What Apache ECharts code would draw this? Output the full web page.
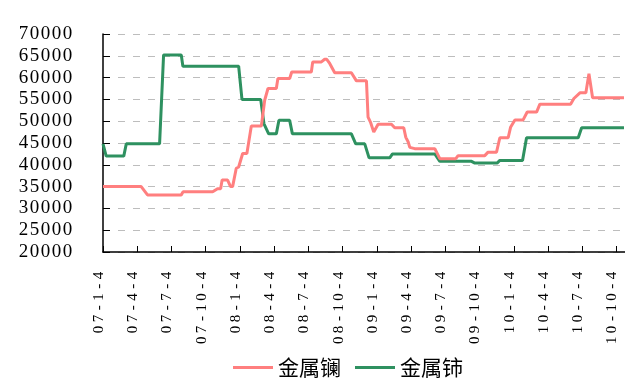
<!DOCTYPE html>
<html>
<head>
<meta charset="utf-8">
<script src="https://cdn.jsdelivr.net/npm/echarts@6/dist/echarts.min.js"></script>
<style>
html,body{margin:0;padding:0;background:#fff;}
#c{width:625px;height:387px;}
</style>
</head>
<body>
<div id="c"></div>
<script>
// Tick labels on the x axis (one per quarter, months since 2007-01-04)
var xLabels = ['07-1-4','07-4-4','07-7-4','07-10-4','08-1-4','08-4-4','08-7-4','08-10-4',
               '09-1-4','09-4-4','09-7-4','09-10-4','10-1-4','10-4-4','10-7-4','10-10-4'];
var seriesNames = ['金属镧', '金属铈'];

// 金属镧 (lanthanum): month offset since 07-1-4, price
var laMonths = [0, 3.35, 3.90, 6.86, 7.02, 9.61, 10.04, 10.31, 10.44, 10.92, 11.18, 11.36, 11.68, 11.89,
  12.24, 12.61, 13.0, 13.88, 14.17, 14.46, 15.19, 15.33, 16.36, 16.54, 18.26, 18.38, 19.14, 19.43, 19.61,
  19.87, 20.31, 21.77, 22.21, 23.09, 23.23, 23.44, 23.73, 24.11, 25.28, 25.57, 26.36, 26.54, 26.74, 26.89,
  27.32, 29.08, 29.52, 30.92, 31.12, 33.46, 33.75, 34.49, 34.78, 35.51, 35.72, 36.10, 36.82, 37.18, 38.0,
  38.29, 40.98, 41.27, 41.80, 42.32, 42.59, 42.91, 45.66];
var laValues = [35000, 35000, 33100, 33100, 33800, 33800, 34500, 34500, 36500, 36500, 35000, 35000, 39200, 39500,
  42600, 42600, 48900, 48900, 54800, 57500, 57500, 59800, 59800, 61300, 61300, 63600, 63600, 64200, 64200,
  63250, 61100, 61100, 59250, 59250, 50950, 49800, 47500, 49300, 49300, 48500, 48500, 46300, 45300, 44000,
  43700, 43700, 41400, 41400, 42100, 42100, 42900, 42900, 46200, 46200, 48600, 50300, 50300, 52100, 52100,
  53900, 53900, 55200, 56500, 56500, 60900, 55400, 55400];

// 金属铈 (cerium)
var ceMonths = [0, 0.28, 1.82, 2.04, 4.96, 5.31, 6.86, 7.0, 11.89, 12.18, 13.82, 14.11, 14.52, 15.19, 15.42,
  16.36, 16.60, 21.77, 22.15, 22.94, 23.32, 25.13, 25.37, 29.08, 29.52, 32.30, 32.59, 34.54, 34.78, 36.77,
  37.12, 41.65, 41.95, 45.66];
var ceValues = [44800, 42000, 42000, 44800, 44800, 65200, 65200, 62600, 62600, 55000, 55000, 49400, 47100,
  47100, 50200, 50200, 47100, 47100, 44800, 44800, 41600, 41600, 42500, 42500, 40800, 40800, 40400, 40400,
  41000, 41000, 46200, 46200, 48500, 48500];

function zip(a, b) { return a.map(function (v, i) { return [v, b[i]]; }); }
// wrap every character in its own fixed-width rich box (letter-spaced look)
function spaced(s) { return s.split('').map(function (ch) { return '{c|' + ch + '}'; }).join(''); }

var chart = echarts.init(document.getElementById('c'), null, {renderer: 'canvas'});
var serif = '"Liberation Serif", "Times New Roman", serif';
chart.setOption({
  animation: false,
  backgroundColor: '#ffffff',
  grid: {left: 103, right: 0, top: 34, bottom: 135, containLabel: false},
  legend: {
    bottom: 4,
    left: 228,
    itemWidth: 40,
    itemHeight: 3,
    itemGap: 14,
    icon: 'rect',
    data: seriesNames,
    textStyle: {fontFamily: '"Noto Sans CJK SC", sans-serif', fontSize: 21, color: '#000'}
  },
  xAxis: {
    type: 'value',
    min: 0,
    max: 45.75,
    interval: 3,
    axisLine: {show: true, onZero: false, lineStyle: {color: '#000', width: 1.5}},
    axisTick: {show: true, inside: true, length: 6, lineStyle: {color: '#000', width: 1}},
    splitLine: {show: false},
    axisLabel: {
      rotate: 90,
      margin: 18,
      showMaxLabel: false,
      padding: [0, 0, 8, 0],
      color: '#000',
      rich: {c: {fontFamily: serif, fontSize: 15, width: 10.8, align: 'center', color: '#000'}},
      formatter: function (v) {
        var i = Math.round(v / 3);
        return Math.abs(v - i * 3) < 1e-6 && xLabels[i] ? spaced(xLabels[i]) : '';
      }
    }
  },
  yAxis: {
    type: 'value',
    min: 20000,
    max: 70000,
    interval: 5000,
    axisLine: {show: true, lineStyle: {color: '#000', width: 1.5}},
    axisTick: {show: true, inside: true, length: 7, lineStyle: {color: '#000', width: 1}},
    axisLabel: {
      margin: 30,
      color: '#000',
      rich: {c: {fontFamily: serif, fontSize: 19, width: 11, align: 'center', color: '#000'}},
      formatter: function (v) { return spaced(String(v)); }
    },
    splitLine: {show: true, lineStyle: {color: '#BDBDBD', width: 1, type: [7, 8]}}
  },
  series: [
    {
      name: seriesNames[0],
      type: 'line',
      data: zip(laMonths, laValues),
      showSymbol: false,
      symbol: 'none',
      lineStyle: {color: '#FF7F7F', width: 3},
      itemStyle: {color: '#FF7F7F'},
      z: 3
    },
    {
      name: seriesNames[1],
      type: 'line',
      data: zip(ceMonths, ceValues),
      showSymbol: false,
      symbol: 'none',
      lineStyle: {color: '#2E9160', width: 3},
      itemStyle: {color: '#2E9160'},
      z: 2
    }
  ]
});
</script>
</body>
</html>
